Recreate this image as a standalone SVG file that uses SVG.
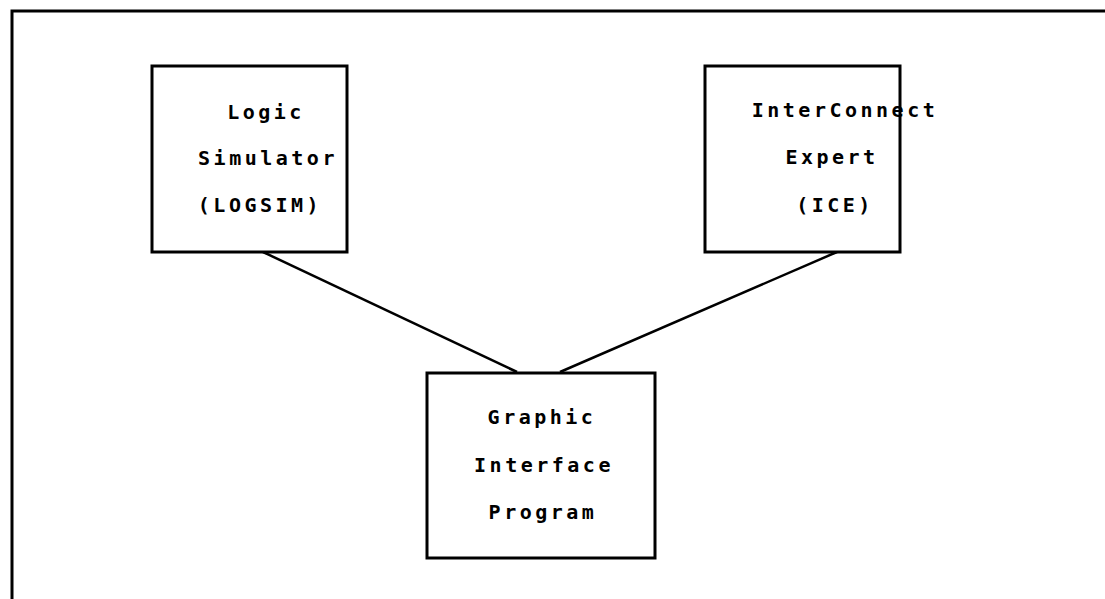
<svg xmlns="http://www.w3.org/2000/svg" width="1105" height="599" viewBox="0 0 1105 599">
<style>
.box{fill:#fff;stroke:#000;stroke-width:3}
.frame{fill:none;stroke:#000;stroke-width:3}
.conn{stroke:#000;stroke-width:2.5;fill:none}
.t{font-family:"DejaVu Sans Mono","Liberation Mono",monospace;font-weight:bold;font-size:20px;letter-spacing:3.5px;text-anchor:middle;fill:#000}
</style>
<rect width="1105" height="599" fill="#fff"/>
<path class="frame" d="M12,610 L12,11 L1110,11"/>
<g id="connectors">
<line class="conn" x1="263" y1="252" x2="517" y2="372"/>
<line class="conn" x1="837" y1="252" x2="560" y2="372"/>
</g>
<g id="logsim">
<rect class="box" x="152" y="66" width="195" height="186"/>
<text class="t" x="266" y="119">Logic</text>
<text class="t" x="268" y="165">Simulator</text>
<text class="t" x="260" y="212">(LOGSIM)</text>
</g>
<g id="ice">
<rect class="box" x="705" y="66" width="195" height="186"/>
<text class="t" x="845" y="117">InterConnect</text>
<text class="t" x="832" y="164">Expert</text>
<text class="t" x="835" y="212">(ICE)</text>
</g>
<g id="gip">
<rect class="box" x="427" y="373" width="228" height="185"/>
<text class="t" x="542" y="424">Graphic</text>
<text class="t" x="544" y="472">Interface</text>
<text class="t" x="543" y="519">Program</text>
</g>
</svg>
